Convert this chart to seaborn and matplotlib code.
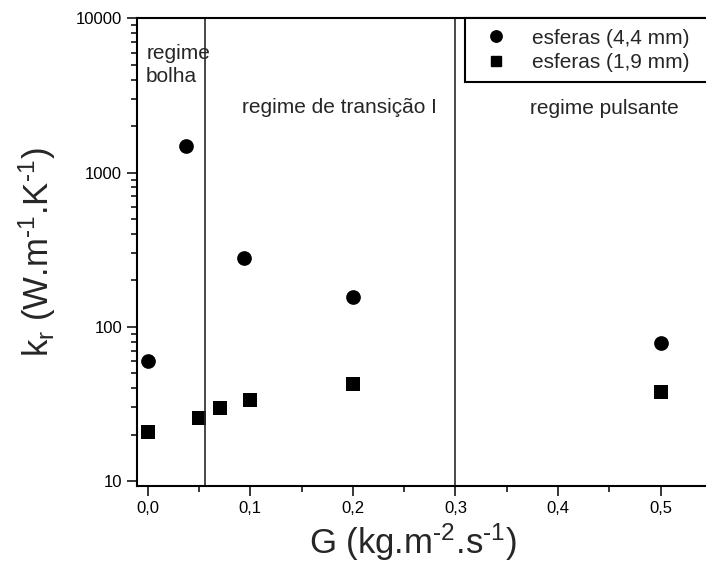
import matplotlib
matplotlib.use("Agg")
import matplotlib.pyplot as plt
import pandas as pd
import seaborn as sns
from matplotlib.lines import Line2D
from matplotlib.ticker import (FixedLocator, FixedFormatter, LogLocator,
                               NullFormatter, MultipleLocator)

# Effective thermal conductivity vs. gas mass flux for two sphere sizes
g_large = [0.0, 0.037, 0.094, 0.200, 0.500]
kr_large = [60, 1490, 279, 157, 78]
g_small = [0.0, 0.050, 0.070, 0.100, 0.200, 0.500]
kr_small = [20.8, 25.6, 29.7, 33.7, 42.3, 37.8]
series_names = ["esferas (4,4 mm)", "esferas (1,9 mm)"]

# Flow-regime boundaries and labels
regime_bounds = [0.056, 0.300]
regime_labels = ["regime\nbolha", "regime de transição I", "regime pulsante"]

x_ticks = [0.0, 0.1, 0.2, 0.3, 0.4, 0.5]
x_tick_labels = ["0,0", "0,1", "0,2", "0,3", "0,4", "0,5"]
y_ticks = [10, 100, 1000, 10000]
y_tick_labels = ["10", "100", "1000", "10000"]

df = pd.DataFrame({
    "G": g_large + g_small,
    "kr": kr_large + kr_small,
    "serie": [series_names[0]] * len(g_large) + [series_names[1]] * len(g_small),
})

sns.set_style("ticks")
plt.rcParams["font.family"] = ["Liberation Sans", "DejaVu Sans"]
plt.rcParams["mathtext.fontset"] = "custom"
plt.rcParams["mathtext.rm"] = "Liberation Sans"
plt.rcParams["mathtext.it"] = "Liberation Sans:italic"

W, H = 706, 578
fig = plt.figure(figsize=(W / 100, H / 100), dpi=100)
left, right, top, bottom = 136.7, 712.0, 18.3, 486.0
ax = fig.add_axes([left / W, 1 - bottom / H, (right - left) / W, (bottom - top) / H])
ax.set_yscale("log")

sns.scatterplot(data=df[df["serie"] == series_names[0]], x="G", y="kr",
                marker="o", color="black", s=112, linewidth=0, ax=ax, legend=False)
sns.scatterplot(data=df[df["serie"] == series_names[1]], x="G", y="kr",
                marker="s", color="black", s=88, linewidth=0, ax=ax, legend=False)

for b in regime_bounds:
    ax.axvline(b, color="#2a2a2a", lw=1.2, zorder=1)

ax.text(-0.0015, 5000, regime_labels[0], fontsize=15, ha="left", va="center",
        linespacing=1.25)
ax.text(0.0917, 2650, regime_labels[1], fontsize=15, ha="left", va="center")
ax.text(0.373, 2600, regime_labels[2], fontsize=15, ha="left", va="center")

ax.set_xlim(-0.0107, 0.55)
ax.set_ylim(9.28, 10000)

ax.xaxis.set_major_locator(FixedLocator(x_ticks))
ax.xaxis.set_major_formatter(FixedFormatter(x_tick_labels))
ax.xaxis.set_minor_locator(MultipleLocator(0.05))
ax.yaxis.set_major_locator(FixedLocator(y_ticks))
ax.yaxis.set_major_formatter(FixedFormatter(y_tick_labels))
ax.yaxis.set_minor_locator(LogLocator(base=10, subs=range(2, 10)))
ax.yaxis.set_minor_formatter(NullFormatter())

ax.tick_params(which="major", direction="out", length=7, width=1.1,
               labelsize=12, color="black", labelcolor="black")
ax.tick_params(which="minor", direction="out", length=4.5, width=1.1, color="black")
for side, sp in ax.spines.items():
    sp.set_linewidth(1.5)
    sp.set_color("black")
ax.spines["right"].set_visible(False)

ax.set_xlabel("G (kg.m$^{\\mathregular{\u20112}}$.s$^{\\mathregular{\u20111}}$)",
              fontsize=25)
ax.set_ylabel("k$_{\\mathregular{r}}$ (W.m$^{\\mathregular{\u20111}}$"
              ".K$^{\\mathregular{\u20111}}$)", fontsize=25)
ax.xaxis.set_label_coords((413 - left) / (right - left), -0.075)
ax.yaxis.set_label_coords((58 - left) / (right - left), 0.5)

handles = [
    Line2D([], [], marker="o", ls="none", color="black", markersize=8.2),
    Line2D([], [], marker="s", ls="none", color="black", markersize=6.8),
]
x0 = (465 - left) / (right - left)
leg = ax.legend(handles, series_names, loc="upper left",
                bbox_to_anchor=(x0, 0, 1 - x0, 1), mode="expand",
                borderaxespad=0, fontsize=15, frameon=True, fancybox=False,
                framealpha=1, edgecolor="black", handlelength=2.0,
                handletextpad=0.7, labelspacing=0.25, borderpad=0.5)
leg.get_frame().set_linewidth(1.5)

fig.savefig("out.png", dpi=100)
